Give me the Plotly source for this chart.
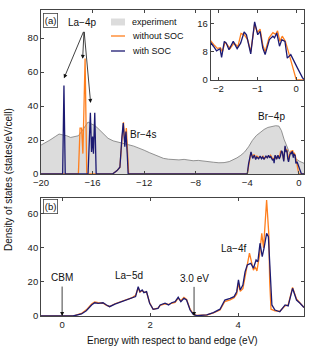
import plotly.graph_objects as go

# ---------------- data ----------------
exp_E = [-20.0, -19.6, -19.3, -18.9, -18.6, -18.3, -18.0, -17.7, -17.4, -17.1, -16.85, -16.6, -16.35,
         -16.1, -15.85, -15.6, -15.4, -15.1, -14.8, -14.4, -14.0, -13.6, -13.2, -12.8, -12.4, -12.0,
         -11.6, -11.2, -10.8, -10.5, -10.1, -9.7, -9.3, -8.9, -8.6, -8.2, -7.8, -7.4, -7.0, -6.6, -6.2,
         -5.8, -5.4, -5.1, -4.8, -4.5, -4.2, -3.9, -3.6, -3.3, -3.0, -2.7, -2.4, -2.1, -1.8, -1.55,
         -1.35, -1.15, -0.95, -0.75, -0.5, -0.25, 0.05, 0.4]
exp_dos = [17, 18.5, 20, 22, 23.5, 23, 22.5, 21.5, 22, 22.5, 25, 28, 30.6,
           29.5, 28.6, 27, 25.5, 23, 21, 19.5, 18.6, 17.8, 17.2, 16.4, 15.4, 14,
           12.6, 11.3, 10, 9.2, 8.7, 8.4, 8.3, 8.6, 8.1, 7.8, 8, 7.5, 7.2, 6.9, 6.6,
           6.7, 7.3, 8.2, 9.5, 11, 13, 16, 19.8, 22.6, 24.6, 26.2, 27.4, 28, 28.4, 28.2,
           25.5, 20.5, 16.3, 13, 10.8, 9, 7.5, 6.3]

vb_soc_E = [-20, -18.32, -18.22, -18.12, -16.35, -16.17, -16.08, -16.0, -15.93, -15.83, -15.72,
            -14.45, -14.1, -13.88, -13.72, -13.62, -13.5, -13.41, -13.3, -13.24,
            -4.0, -3.9, -3.71, -3.58, -3.45, -3.35, -3.27, -3.12, -3.0, -2.9, -2.81, -2.7, -2.55,
            -2.45, -2.35, -2.27, -2.19, -2.13, -2.05, -1.96, -1.92, -1.85, -1.80, -1.73, -1.62,
            -1.52, -1.43, -1.34, -1.28, -1.17, -1.07, -0.99, -0.93, -0.86, -0.80, -0.69, -0.60,
            -0.56, -0.50, -0.43, -0.37, -0.29, -0.23, -0.14, -0.07, 0.03, 0.16, 0.2, 0.4]
vb_soc_dos = [0, 0, 52, 0, 0, 36, 13, 22, 12, 36, 0,
              0, 2, 4, 22, 30, 16, 25, 10, 0,
              0, 6, 13, 9.2, 11, 8.5, 10, 9, 10.5, 9, 10, 8.8, 10.5,
              9.5, 11, 9.5, 10.5, 9.6, 8.3, 8.9, 6.4, 11, 10.5, 8.6, 11,
              8.9, 10.5, 13.7, 12.9, 7.4, 16.6, 12.9, 13.9, 9.1, 7.2, 11.5, 12.5,
              12, 13.4, 9.6, 11.5, 11, 6.2, 7.2, 5.5, 3.4, 0.6, 0, 0]

vb_nosoc_E = [-20, -17.1, -16.97, -16.85, -16.75, -16.58, -16.45,
              -14.45, -14.1, -13.88, -13.72, -13.6, -13.5, -13.38, -13.28, -13.2,
              -4.0, -3.9, -3.72, -3.6, -3.47, -3.35, -3.25, -3.1, -3.0, -2.88, -2.78, -2.68, -2.55,
              -2.45, -2.35, -2.27, -2.19, -2.1, -2.03, -1.95, -1.9, -1.83, -1.77, -1.7, -1.6, -1.5,
              -1.42, -1.33, -1.25, -1.17, -1.07, -1.0, -0.93, -0.86, -0.80, -0.7, -0.6, -0.53,
              -0.48, -0.42, -0.36, -0.28, -0.2, -0.12, -0.05, 0.0, 0.4]
vb_nosoc_dos = [0, 0, 27, 27, 12, 68, 0,
                0, 2, 4, 20, 30.5, 18, 27, 12, 0,
                0, 5, 12.5, 10, 11.5, 9, 10.5, 9.5, 10, 9.5, 10.5, 9, 10,
                10, 10.5, 10, 11, 9.8, 9, 9.2, 8, 10.8, 10, 9, 10.5, 9.5,
                13.3, 12.8, 11.5, 8, 16, 13.5, 14.5, 10, 8, 12, 13.5, 13,
                14, 11, 12.5, 11, 8, 5, 2, 0, 0]

cb_E = [-0.48, 0.25, 0.44, 0.55, 0.67, 0.74, 0.82, 0.93, 1.01, 1.08, 1.20, 1.31, 1.46, 1.58, 1.67,
        1.73, 1.77, 1.82, 1.86, 1.92, 1.99, 2.07, 2.18, 2.23, 2.34, 2.42, 2.49, 2.57, 2.64, 2.70,
        2.77, 2.83, 2.91, 2.98, 3.06, 3.29, 3.44, 3.59, 3.70, 3.82, 3.91, 3.97, 4.01, 4.05, 4.11,
        4.16, 4.21, 4.29, 4.35, 4.41, 4.45, 4.50, 4.55, 4.59, 4.65, 4.69, 4.73, 4.77, 4.84, 4.95,
        5.07, 5.14, 5.24, 5.33, 5.41, 5.48, 5.5]
cb_soc_dos = [0, 0, 1.2, 3.1, 6.5, 7.8, 7.4, 7.8, 6.5, 5.5, 7, 8, 9.4, 10.4, 11.4,
              17.2, 14.3, 15.3, 13.7, 14.3, 7.5, 3.9, 4.5, 6.5, 7.5, 6.5, 7.8, 8.4, 11, 8.4,
              10.4, 9.4, 3.5, 1, 0.2, 0.6, 2, 4, 9.4, 10.4, 11.4, 14.3, 21.2, 15.3, 18.2,
              26, 30, 31, 28.1, 32.9, 31.9, 42.8, 34.9, 39.8, 48.6, 46.6, 23.1, 6.5, 3.5, 2.5,
              6.5, 5.9, 16.3, 9.4, 7.5, 5.5, 5]

cb_nosoc_E = [-0.48, 0.25, 0.44, 0.55, 0.67, 0.74, 0.82, 0.93, 1.01, 1.08, 1.20, 1.31, 1.46, 1.58, 1.67,
              1.73, 1.77, 1.82, 1.86, 1.92, 1.99, 2.07, 2.18, 2.23, 2.34, 2.42, 2.49, 2.57, 2.64, 2.70,
              2.77, 2.83, 2.91, 2.98, 3.06, 3.29, 3.44, 3.59, 3.70, 3.82, 3.91, 3.97, 4.01, 4.05, 4.11,
              4.16, 4.21, 4.26, 4.30, 4.35, 4.39, 4.43, 4.49, 4.54, 4.58, 4.65, 4.70, 4.72, 4.75, 4.84,
              4.95, 5.07, 5.14, 5.24, 5.33, 5.41, 5.48, 5.5]
cb_nosoc_dos = [0, 0, 1.5, 3.6, 7, 8.2, 7.8, 7.5, 6.3, 5.6, 7.2, 8.2, 9.5, 10.6, 12.2,
                16.5, 14, 15, 14, 14, 7.8, 4, 4.6, 6.3, 7.2, 6.8, 7.5, 8, 10.5, 9,
                11, 9.8, 4, 1.2, 0.3, 0.6, 1.8, 3.5, 8.5, 9.5, 10.8, 13, 19.5, 14.5, 16,
                22, 30, 37, 33, 27, 29, 26.5, 36, 48.6, 40, 68.2, 48, 20, 4, 3,
                2.8, 6, 6.5, 16.8, 10, 7.5, 5.5, 5]

xticks_a = [-20, -16, -12, -8, -4, 0]
yticks_a = [0, 20, 40, 60, 80]
xticks_b = [0, 2, 4]
yticks_b = [0, 20, 40, 60]
xticks_in = [-2, -1, 0]
yticks_in = [0, 8, 16]

# ---------------- styles ----------------
NAVY = "#1c1a72"
ORANGE = "#ff7f1e"
FONT = "Liberation Sans"
AX = "#444444"

fig = go.Figure()

# panel (a)
fig.add_trace(go.Scatter(x=exp_E, y=exp_dos, mode="lines", fill="tozeroy",
                         fillcolor="#dcdcdc", line=dict(color="#7a7a7a", width=0.8),
                         xaxis="x", yaxis="y", showlegend=False))
fig.add_trace(go.Scatter(x=vb_nosoc_E, y=vb_nosoc_dos, mode="lines",
                         line=dict(color=ORANGE, width=1.3), xaxis="x", yaxis="y", showlegend=False))
fig.add_trace(go.Scatter(x=vb_soc_E, y=vb_soc_dos, mode="lines",
                         line=dict(color=NAVY, width=1.3), xaxis="x", yaxis="y", showlegend=False))
# panel (b)
fig.add_trace(go.Scatter(x=cb_nosoc_E, y=cb_nosoc_dos, mode="lines",
                         line=dict(color=ORANGE, width=1.3), xaxis="x2", yaxis="y2", showlegend=False))
fig.add_trace(go.Scatter(x=cb_E, y=cb_soc_dos, mode="lines",
                         line=dict(color=NAVY, width=1.3), xaxis="x2", yaxis="y2", showlegend=False))
# inset
fig.add_trace(go.Scatter(x=vb_nosoc_E, y=vb_nosoc_dos, mode="lines",
                         line=dict(color=ORANGE, width=1.3), xaxis="x3", yaxis="y3", showlegend=False))
fig.add_trace(go.Scatter(x=vb_soc_E, y=vb_soc_dos, mode="lines",
                         line=dict(color=NAVY, width=1.3), xaxis="x3", yaxis="y3", showlegend=False))

def axstyle(**kw):
    d = dict(showline=True, linecolor=AX, linewidth=0.8, mirror="ticks", ticks="inside",
             ticklen=3, tickwidth=0.8, tickcolor=AX, showgrid=False, zeroline=False,
             tickfont=dict(family=FONT, size=9.5, color="#222222"))
    d.update(kw)
    return d

W, H = 310, 347
L, R, T, B = 41, 6, 10, 31
pw, ph = W - L - R, H - T - B

def px(xp):
    return (xp - L) / pw

def py(yp):
    return (H - B - yp) / ph

fig.update_layout(
    width=W, height=H, margin=dict(l=L, r=R, t=T, b=B),
    paper_bgcolor="white", plot_bgcolor="white", showlegend=False,
    xaxis=axstyle(domain=[0, 1], range=[-20, 0.4], tickvals=xticks_a, anchor="y"),
    yaxis=axstyle(domain=[py(174), 1], range=[0, 96.5], tickvals=yticks_a, anchor="x"),
    xaxis2=axstyle(domain=[0, 1], range=[-0.48, 5.5], tickvals=xticks_b, anchor="y2"),
    yaxis2=axstyle(domain=[0, py(198)], range=[0, 69.4], tickvals=yticks_b, anchor="x2"),
    xaxis3=axstyle(domain=[px(210.7), 1], range=[-2.2, 0.2], tickvals=xticks_in, anchor="y3"),
    yaxis3=axstyle(domain=[py(79.7), 1], range=[0, 20], tickvals=yticks_in, anchor="x3"),
)

ann = []
tf = dict(family=FONT, size=10, color="#111111")

# La-4p label and arrows
ann.append(dict(x=-16.81, y=89, xref="x", yref="y", text="La\u22124p", showarrow=False, font=tf))
for tx, ty in [(-18.22, 56.3), (-16.77, 67.8), (-16.15, 41.8)]:
    ann.append(dict(x=tx, y=ty, xref="x", yref="y", ax=-16.66, ay=84.5, axref="x", ayref="y",
                    text="", showarrow=True, arrowhead=2, arrowsize=1, arrowwidth=0.8,
                    arrowcolor="#111111", standoff=0, startstandoff=0))
ann.append(dict(x=-12.1, y=23.5, xref="x", yref="y", text="Br\u22124s", showarrow=False, font=tf))
ann.append(dict(x=-2.1, y=33.7, xref="x", yref="y", text="Br\u22124p", showarrow=False, font=tf))

# panel b labels
ann.append(dict(x=0, y=22.4, xref="x2", yref="y2", text="CBM", showarrow=False, font=tf))
ann.append(dict(x=0, y=0, xref="x2", yref="y2", ax=0, ay=18.2, axref="x2", ayref="y2", text="",
                showarrow=True, arrowhead=2, arrowsize=1, arrowwidth=0.8, arrowcolor="#111111",
                standoff=0))
ann.append(dict(x=1.52, y=24.1, xref="x2", yref="y2", text="La\u22125d", showarrow=False, font=tf))
ann.append(dict(x=3.01, y=22.2, xref="x2", yref="y2", text="3.0 eV", showarrow=False, font=tf))
ann.append(dict(x=3.0, y=0, xref="x2", yref="y2", ax=3.0, ay=18.0, axref="x2", ayref="y2", text="",
                showarrow=True, arrowhead=2, arrowsize=1, arrowwidth=0.8, arrowcolor="#111111",
                standoff=0))
ann.append(dict(x=3.91, y=39.8, xref="x2", yref="y2", text="La\u22124f", showarrow=False, font=tf))

# panel tags
ann.append(dict(x=px(43), y=py(13), xref="paper", yref="paper", xanchor="left", yanchor="top",
                text="(a)", showarrow=False, font=dict(family=FONT, size=9.5, color="#111111"),
                bordercolor=AX, borderwidth=0.8, borderpad=1, bgcolor="white"))
ann.append(dict(x=px(42.5), y=py(199), xref="paper", yref="paper", xanchor="left", yanchor="top",
                text="(b)", showarrow=False, font=dict(family=FONT, size=9.5, color="#111111"),
                bordercolor=AX, borderwidth=0.8, borderpad=1, bgcolor="white"))

# legend texts
lf = dict(family=FONT, size=9, color="#111111")
for txt, yp in [("experiment", 22), ("without SOC", 36), ("with SOC", 51)]:
    ann.append(dict(x=px(130), y=py(yp), xref="paper", yref="paper", xanchor="left", yanchor="middle",
                    text=txt, showarrow=False, font=lf))

# axis titles
ann.append(dict(x=px(172), y=py(340), xref="paper", yref="paper", xanchor="center", yanchor="middle",
                text="Energy with respect to band edge (eV)",
                showarrow=False, font=dict(family=FONT, size=10, color="#111111")))
ann.append(dict(x=px(8), y=py(180), xref="paper", yref="paper", xanchor="center", yanchor="middle",
                text="Density of states (states/eV/cell)",
                textangle=-90, showarrow=False, font=dict(family=FONT, size=10, color="#111111")))

shapes = [
    dict(type="rect", xref="paper", yref="paper", x0=px(111), x1=px(125), y0=py(25.5), y1=py(18.5),
         fillcolor="#dcdcdc", line=dict(width=0)),
    dict(type="line", xref="paper", yref="paper", x0=px(111), x1=px(125), y0=py(36), y1=py(36),
         line=dict(color=ORANGE, width=1.3)),
    dict(type="line", xref="paper", yref="paper", x0=px(111), x1=px(125), y0=py(51), y1=py(51),
         line=dict(color=NAVY, width=1.3)),
]

fig.update_layout(annotations=ann, shapes=shapes)
fig.write_html("out.html", config={"displayModeBar": False},
               post_script="document.body.style.margin='0';document.body.style.overflow='hidden';")
